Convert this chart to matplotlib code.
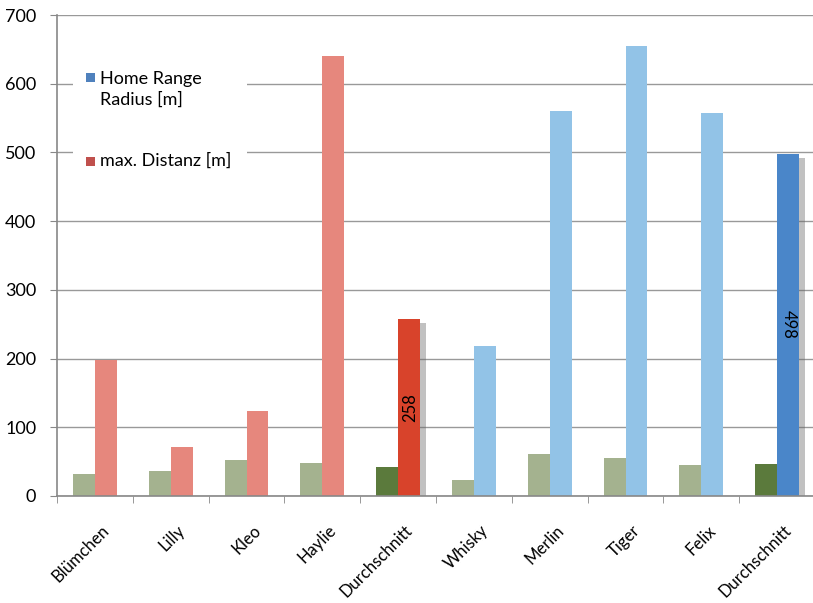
import numpy as np
import matplotlib.pyplot as plt
from matplotlib.patches import Rectangle
from matplotlib import patheffects as pe
from matplotlib.transforms import ScaledTranslation

# Katzen und Mittelwerte
categories = ["Blümchen", "Lilly", "Kleo", "Haylie", "Durchschnitt",
              "Whisky", "Merlin", "Tiger", "Felix", "Durchschnitt"]
home_range = [32, 36, 53, 48, 42, 24, 61, 55, 45, 46]
max_distanz = [198, 72, 124, 640, 258, 218, 561, 655, 558, 498]

# Farben: Weibchen rot, Kater blau, Mittelwerte dunkler
green_colors = ["#a4b28f"] * 4 + ["#5b7a3c"] + ["#a4b28f"] * 4 + ["#5b7a3c"]
dist_colors = ["#e6877d"] * 4 + ["#d8432b"] + ["#92c3e7"] * 4 + ["#4a86c9"]
is_mean = [False] * 4 + [True] + [False] * 4 + [True]

legend_labels = ["Home Range\nRadius [m]", "max. Distanz [m]"]
legend_colors = ["#4f81bd", "#c0504d"]

plt.rcParams["font.family"] = ["Lato", "DejaVu Sans"]

W, H = 813, 603
fig = plt.figure(figsize=(W / 100, H / 100), dpi=100)
ax = fig.add_axes([57 / W, 1 - 496 / H, 758 / W, 481 / H])


def px(x, y):
    # Pixelposition (von oben links) -> Figurenkoordinaten
    return x / W, 1 - y / H


x = np.arange(len(categories))
w = 0.29

shadow = [pe.SimplePatchShadow(offset=(4, -3), shadow_rgbFace="#666666", alpha=0.4), pe.Normal()]

for i in range(len(categories)):
    b1 = ax.bar(x[i] - w / 2, home_range[i], w, color=green_colors[i], zorder=3)
    b2 = ax.bar(x[i] + w / 2, max_distanz[i], w, color=dist_colors[i], zorder=3)
    if is_mean[i]:
        b1[0].set_path_effects(shadow)
        b2[0].set_path_effects(shadow)
        rot = 90 if i == 4 else 270
        ax.text(x[i] + w / 2 + 0.01, max_distanz[i] / 2, str(max_distanz[i]),
                rotation=rot, ha="center", va="center", fontsize=12,
                color="black", zorder=4)

ax.set_ylim(0, 700)
ax.set_xlim(-0.5, 9.5)
ax.set_yticks(range(0, 701, 100))
ax.tick_params(axis="y", labelsize=13, length=5, color="#888888", pad=10)

ax.set_xticks(x)
ax.set_xticklabels(categories, rotation=45, ha="right", va="top",
                   rotation_mode="anchor", fontsize=12)
ax.tick_params(axis="x", which="major", length=0, pad=19)
shift = ScaledTranslation(6 / 100, 0, fig.dpi_scale_trans)
for lbl in ax.get_xticklabels():
    lbl.set_transform(lbl.get_transform() + shift)
ax.set_xticks(np.arange(-0.5, 10, 1), minor=True)
ax.tick_params(axis="x", which="minor", length=5, color="#888888")

ax.grid(axis="y", color="#999999", linewidth=1, zorder=0)
for side in ["top", "right"]:
    ax.spines[side].set_visible(False)
for side in ["left", "bottom"]:
    ax.spines[side].set_color("#888888")
    ax.spines[side].set_linewidth(1.2)
    ax.spines[side].set_zorder(5)

# Legende von Hand: weisser Kasten, Farbquadrate, Text
bx0, by0 = px(73, 185)
bx1, by1 = px(247, 58)
fig.add_artist(Rectangle((bx0, by0), bx1 - bx0, by1 - by0, transform=fig.transFigure,
                         facecolor="white", edgecolor="none", zorder=2))
for (sy, ty), label, color in zip([(82, 71), (166, 153)], legend_labels, legend_colors):
    sx0, sy0 = px(86, sy)
    fig.add_artist(Rectangle((sx0, sy0), 9 / W, 9 / H, transform=fig.transFigure,
                             facecolor=color, edgecolor="none", zorder=3))
    tx, tyf = px(100, ty)
    fig.text(tx, tyf, label, ha="left", va="top", fontsize=13,
             linespacing=1.35, zorder=3)

fig.savefig("out.png", dpi=100)
